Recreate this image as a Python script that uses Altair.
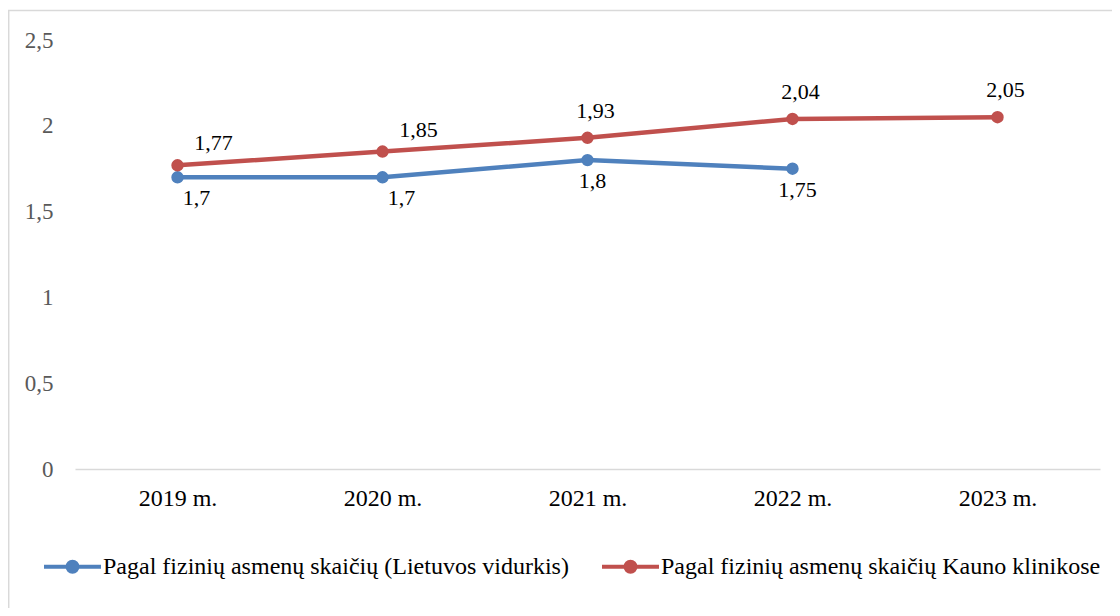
import altair as alt
import pandas as pd

# ---- data ----
years = ["2019 m.", "2020 m.", "2021 m.", "2022 m.", "2023 m."]
series_names = [
    "Pagal fizinių asmenų skaičių (Lietuvos vidurkis)",
    "Pagal fizinių asmenų skaičių Kauno klinikose",
]
lietuvos_vidurkis = [1.7, 1.7, 1.8, 1.75, None]
kauno_klinikos = [1.77, 1.85, 1.93, 2.04, 2.05]
y_ticks = [0, 0.5, 1, 1.5, 2, 2.5]
colors = ["#4F81BD", "#C0504D"]

rows = []
for s, vals in zip(series_names, [lietuvos_vidurkis, kauno_klinikos]):
    for yr, v in zip(years, vals):
        if v is not None:
            rows.append({"year": yr, "series": s, "value": v})
df = pd.DataFrame(rows)

FONT = "Liberation Serif"
W, H = 1025, 429

base = alt.Chart(df)

x_enc = alt.X(
    "year:N",
    sort=years,
    scale=alt.Scale(type="point", padding=0.5),
    axis=alt.Axis(
        title=None, labelAngle=0, ticks=False, tickSize=0, grid=False,
        domainColor="#D9D9D9", domainWidth=1.3,
        labelFont=FONT, labelFontSize=24, labelColor="#000000", labelPadding=17,
    ),
)
y_enc = alt.Y(
    "value:Q",
    scale=alt.Scale(domain=[0, 2.5], nice=False, zero=True),
    axis=alt.Axis(
        title=None, values=y_ticks, domain=False, ticks=False, tickSize=0, grid=False,
        labelExpr="replace(toString(datum.value), '.', ',')",
        labelFont=FONT, labelFontSize=23, labelColor="#595959", labelPadding=22,
    ),
)

sym = ("M-1,0H1"
       "M-0.175,0A0.175,0.175,0,1,0,0.175,0A0.175,0.175,0,1,0,-0.175,0"
       "M-0.07,0A0.07,0.07,0,1,0,0.07,0A0.07,0.07,0,1,0,-0.07,0")

color_enc = alt.Color(
    "series:N",
    scale=alt.Scale(domain=series_names, range=colors),
    legend=alt.Legend(
        orient="none", legendX=-33, legendY=496, direction="horizontal",
        title=None, symbolType=sym, symbolSize=3249, symbolStrokeWidth=4,
        labelFont=FONT, labelFontSize=24, labelColor="#000000",
        labelLimit=800, labelOffset=0, columnPadding=25, padding=0,
    ),
)

lines = base.mark_line(
    strokeWidth=4.5,
    point=alt.OverlayMarkDef(filled=True, size=154, opacity=1),
).encode(x=x_enc, y=y_enc, color=color_enc)


def labels(series, yrs, dx, dy):
    return (
        base.transform_filter(alt.FieldEqualPredicate(field="series", equal=series))
        .transform_filter(alt.FieldOneOfPredicate(field="year", oneOf=yrs))
        .transform_calculate(label="replace(toString(datum.value), '.', ',')")
        .mark_text(font=FONT, fontSize=22, color="#000000", dx=dx, dy=dy,
                   baseline="alphabetic", align="center")
        .encode(x=alt.X("year:N", sort=years), y=alt.Y("value:Q"), text="label:N")
    )


lab_layers = [
    labels(series_names[1], years[0:2], 36, -15),
    labels(series_names[1], years[2:5], 8, -20),
    labels(series_names[0], years[0:2], 19, 28),
    labels(series_names[0], years[2:4], 5, 28),
]

border_df = pd.DataFrame({"k": [0]})
top_border = alt.Chart(border_df).mark_rule(color="#D9D9D9", strokeWidth=1.5).encode(
    x=alt.value(-67), x2=alt.value(1040), y=alt.value(-29.5)
)
left_border = alt.Chart(border_df).mark_rule(color="#D9D9D9", strokeWidth=1.5).encode(
    x=alt.value(-66.3), y=alt.value(-30), y2=alt.value(570)
)

chart = alt.layer(top_border, left_border, lines, *lab_layers).properties(
    width=W, height=H,
    background="#FFFFFF",
    autosize=alt.AutoSizeParams(type="none"),
    padding={"left": 67, "top": 32, "right": 12, "bottom": 139},
).configure_view(stroke=None)

chart.save("out.html", embed_options={"renderer": "svg", "actions": False})
